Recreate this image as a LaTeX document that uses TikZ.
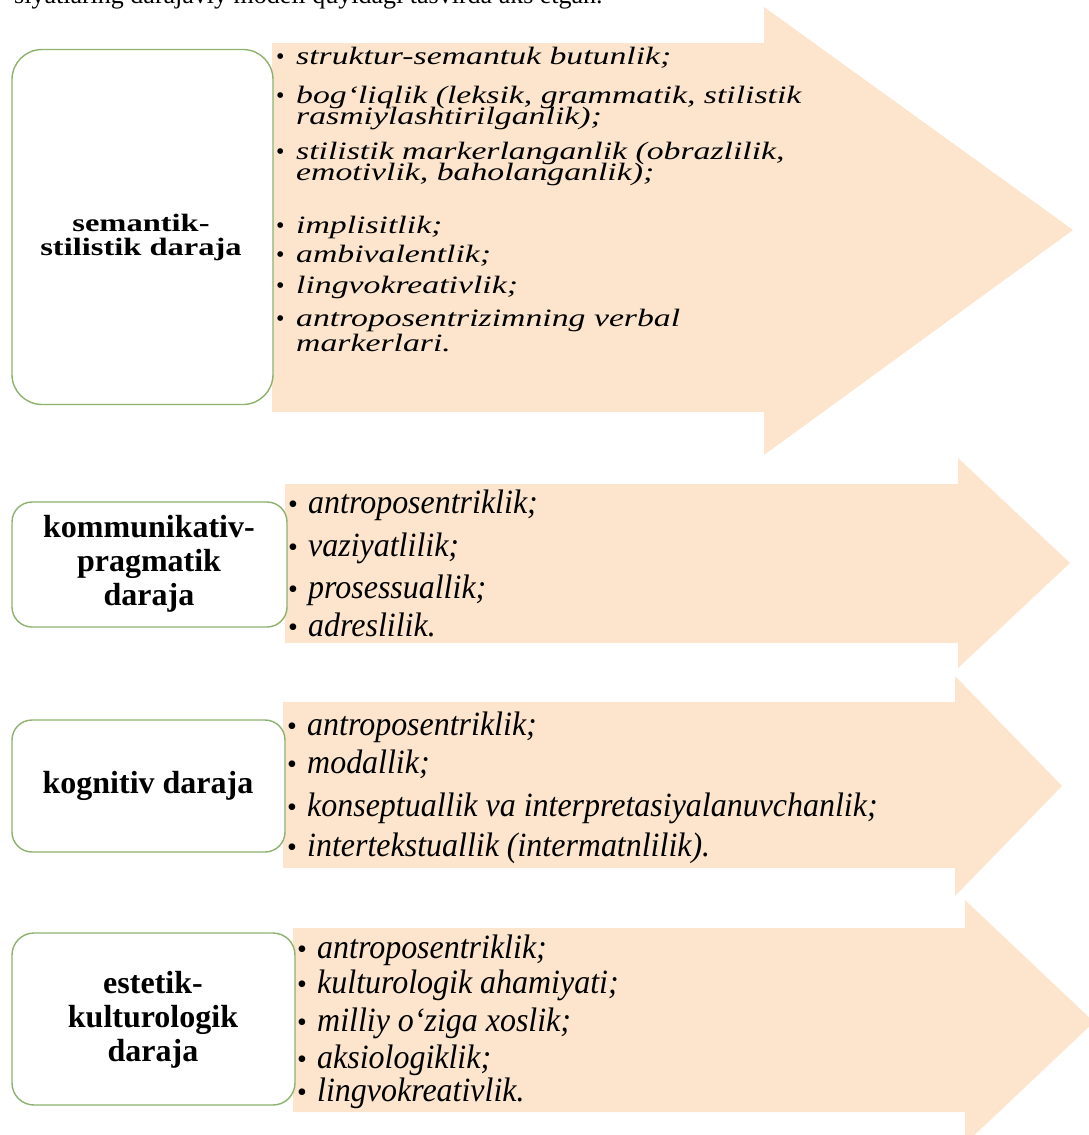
\documentclass[tikz,border=0pt]{standalone}
\usepackage{fontspec}
\setmainfont{Liberation Serif}
\newfontfamily\wideit[FakeStretch=1.35]{Liberation Serif}
\newfontfamily\widebf[FakeStretch=1.3]{Liberation Serif}
\newfontfamily\tallit[FakeStretch=0.94]{Liberation Serif}
\newcommand\tightlines{\lineskiplimit-50pt\relax}
\definecolor{peach}{RGB}{252,229,204}
\definecolor{boxgreen}{RGB}{140,178,110}
\begin{document}
\begin{tikzpicture}[x=1pt,y=-1pt,
  arrowshape/.style={fill=peach, draw=none},
  lvlbox/.style={draw=boxgreen, line width=1.4pt, fill=white, inner sep=0pt},
  lvltext/.style={inner sep=0pt, align=center, font=\bfseries\fontsize{32}{34}\selectfont\tightlines},
  boldwide/.style={font=\widebf\bfseries\fontsize{25}{24}\selectfont\tightlines},
  itemA/.style={anchor=base west, inner sep=0pt, align=left, font=\wideit\itshape\fontsize{25}{21}\selectfont\tightlines},
  itemAloose/.style={font=\wideit\itshape\fontsize{25}{25}\selectfont\tightlines},
  itemB/.style={anchor=base west, inner sep=0pt, font=\tallit\itshape\fontsize{34}{34}\selectfont},
  bulA/.style={anchor=base west, inner sep=0pt, font=\fontsize{24}{24}\selectfont},
  bulB/.style={anchor=base west, inner sep=0pt, font=\fontsize{28}{28}\selectfont},
  toptext/.style={anchor=base west, inner sep=0pt, font=\fontsize{26}{26}\selectfont}]
\useasboundingbox (0,0) rectangle (1089,1135);
\clip (0,0) rectangle (1089,1135);

% cut-off caption line at the top
\node[toptext] (cap) at (14,4) {siyatlaring darajaviy modeli quyidagi tasvirda aks etgan.};

% arrows
\path[arrowshape] (272,43) -- (764,43) -- (764,7) -- (1073,230) -- (764,455) -- (764,412) -- (272,412) -- cycle;
\path[arrowshape] (285,484) -- (958,484) -- (958,458) -- (1070,563) -- (958,668) -- (958,643) -- (285,643) -- cycle;
\path[arrowshape] (283,702) -- (955,702) -- (955,676) -- (1062,786) -- (955,896) -- (955,868) -- (283,868) -- cycle;
\path[arrowshape] (293,928) -- (965,928) -- (965,900) -- (1094,1022) -- (965,1144) -- (965,1112) -- (293,1112) -- cycle;

% level boxes
\node[lvlbox, rounded corners=30pt, minimum width=261pt, minimum height=355pt] (b1) at (142.5,227) {};
\node[lvlbox, rounded corners=20pt, minimum width=275pt, minimum height=125pt] (b2) at (149.5,564.5) {};
\node[lvlbox, rounded corners=20pt, minimum width=273pt, minimum height=132pt] (b3) at (148.5,786) {};
\node[lvlbox, rounded corners=22pt, minimum width=283pt, minimum height=172pt] (b4) at (153.5,1019) {};

\node[lvltext, boldwide] (l1) at (141,237) {semantik-\\stilistik daraja};
\node[lvltext] (l2) at (149,564) {kommunikativ-\\pragmatik\\daraja};
\node[lvltext] (l3) at (148,786) {kognitiv daraja};
\node[lvltext] (l4) at (153,1020) {estetik-\\kulturologik\\daraja};

% arrow 1 items
\foreach \n/\y in {1/64, 2/103, 4/159, 6/233, 7/262, 8/293, 9/326}
  \node[bulA] (ba\n) at (276,\y) {•};
\node[itemA] (a1) at (296,64) {struktur-semantuk butunlik;};
\node[itemA] (a2) at (296,124) {bog‘liqlik (leksik, grammatik, stilistik\\rasmiylashtirilganlik);};
\node[itemA] (a4) at (296,180) {stilistik markerlanganlik (obrazlilik,\\emotivlik, baholanganlik);};
\node[itemA] (a6) at (296,233) {implisitlik;};
\node[itemA] (a7) at (296,262) {ambivalentlik;};
\node[itemA] (a8) at (296,293) {lingvokreativlik;};
\node[itemA, itemAloose] (a9) at (296,351) {antroposentrizimning verbal\\markerlari.};

% arrow 2 items
\foreach \n/\y/\t in {1/513/{antroposentriklik;}, 2/556/{vaziyatlilik;}, 3/598/{prosessuallik;}, 4/636/{adreslilik.}}{
  \node[bulB] (bb\n) at (288,\y) {•};
  \node[itemB] (c\n) at (308,\y) {\t};
}
% arrow 3 items
\foreach \n/\y/\t in {1/735/{antroposentriklik;}, 2/773/{modallik;}, 3/816/{konseptuallik va interpretasiyalanuvchanlik;}, 4/856/{intertekstuallik (intermatnlilik).}}{
  \node[bulB] (bc\n) at (287,\y) {•};
  \node[itemB] (d\n) at (307,\y) {\t};
}
% arrow 4 items
\foreach \n/\y/\t in {1/958/{antroposentriklik;}, 2/993/{kulturologik ahamiyati;}, 3/1031/{milliy o‘ziga xoslik;}, 4/1068/{aksiologiklik;}, 5/1101/{lingvokreativlik.}}{
  \node[bulB] (bd\n) at (297,\y) {•};
  \node[itemB] (e\n) at (317,\y) {\t};
}
\end{tikzpicture}
\end{document}
